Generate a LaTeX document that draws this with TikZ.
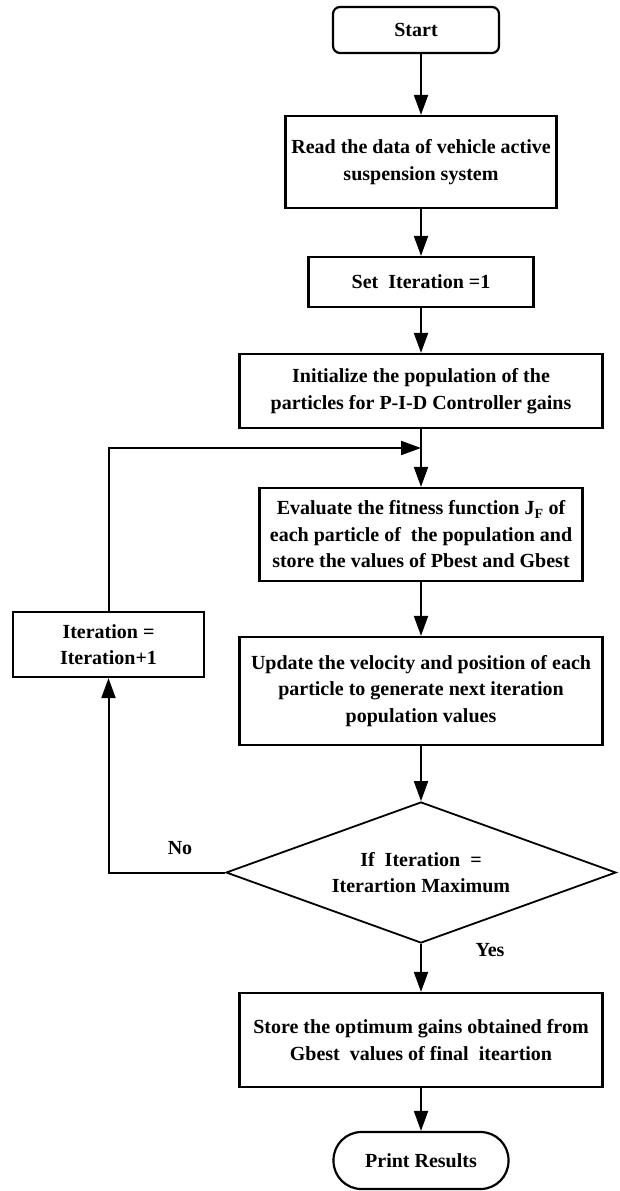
\documentclass[tikz,border=0pt]{standalone}
\usepackage{fontspec}
\setmainfont{Liberation Serif}
\usetikzlibrary{shapes.geometric,arrows.meta}
\begin{document}
\begin{tikzpicture}[x=1pt,y=-1pt,
  txt/.style={font=\bfseries\fontsize{20}{26.5}\selectfont, align=center},
  box/.style={txt, draw, line width=2.2pt, inner sep=0pt},
  term/.style={box, rounded corners=#1},
  decision/.style={txt, draw, line width=1.8pt, diamond, inner sep=0pt, shape aspect=2.76},
  arr/.style={-{Triangle[length=20pt,width=14pt]}, line width=2pt},
  lbl/.style={txt}
]
\useasboundingbox (0,0) rectangle (619,1191);
\fill[white] (0,0) rectangle (619,1191);

\node[term=7pt, minimum width=166pt, minimum height=46pt] (start) at (416,30) {Start};
\node[box, minimum width=271pt, minimum height=92pt] (read) at (421,162) {Read the data of vehicle active\\suspension system};
\node[box, minimum width=225pt, minimum height=50pt] (set) at (421,282) {Set\ \ Iteration =1};
\node[box, minimum width=363pt, minimum height=74pt] (init) at (421,391) {Initialize the population of the\\particles for P-I-D Controller gains};
\node[box, minimum width=323pt, minimum height=93pt] (eval) at (421,534.5) {Evaluate the fitness function J\textsubscript{F} of\\each particle of\ \ the population and\\store the values of Pbest and Gbest};
\node[box, minimum width=191pt, minimum height=65pt] (iter) at (108.5,644.5) {Iteration =\\Iteration+1};
\node[box, minimum width=363pt, minimum height=108pt] (update) at (421,691) {Update the velocity and position of each\\particle to generate next iteration\\population values};
\node[decision, minimum width=390pt, minimum height=141pt] (dia) at (421,872.5) {If\ \ Iteration\ \ =\\Iterartion Maximum};
\node[box, minimum width=363pt, minimum height=94pt] (store) at (421,1040) {Store the optimum gains obtained from\\Gbest\ \ values of final\ \ iteartion};
\node[term=28pt, minimum width=175pt, minimum height=57pt] (print) at (421,1160.5) {Print Results};

\node[lbl] (no) at (180,848) {No};
\node[lbl] (yes) at (490,950) {Yes};

\coordinate (join) at (421,448);

\draw[arr] (start.south -| read.north) -- (read.north);
\draw[arr] (read) -- (set);
\draw[arr] (set) -- (init);
\draw[arr] (init) -- (eval);
\draw[arr] (iter.north) |- (join);
\draw[arr] (eval) -- (update);
\draw[arr] (update.south) -- (dia.north);
\draw[arr] (dia.west) -| (iter.south);
\draw[arr] (dia.south) -- (store.north);
\draw[arr] (store) -- (print);
\end{tikzpicture}
\end{document}
